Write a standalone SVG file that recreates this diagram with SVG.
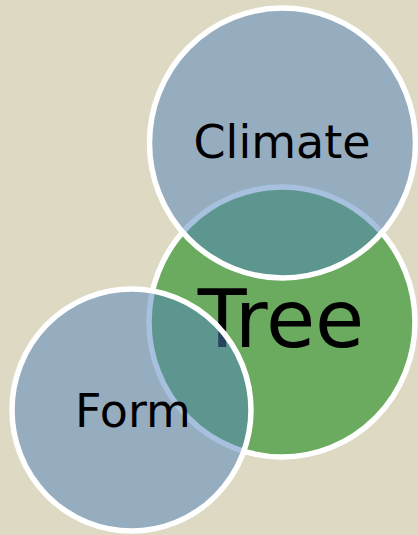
<svg xmlns="http://www.w3.org/2000/svg" width="418" height="535" viewBox="0 0 418 535">
  <style>
    .ring { stroke: #ffffff; stroke-width: 5.5; }
    .core { fill: #6bab5f; }
    .outer { fill: #4f81bd; fill-opacity: 0.5; }
    .label { font-family: "DejaVu Sans", "Open Sans", sans-serif; fill: #000000; text-anchor: middle; }
  </style>
  <rect width="418" height="535" fill="#ddd9c3"/>
  <g id="connectors"/>
  <g id="tree">
    <ellipse class="ring core" cx="282" cy="322" rx="133" ry="135"/>
    <text class="label" x="281" y="347" font-size="80">Tree</text>
  </g>
  <g id="climate">
    <ellipse class="ring outer" cx="282.5" cy="143" rx="133" ry="135"/>
    <text class="label" x="282" y="158" font-size="46">Climate</text>
  </g>
  <g id="form">
    <ellipse class="ring outer" cx="131.5" cy="410" rx="119.5" ry="121"/>
    <text class="label" x="133" y="427" font-size="46">Form</text>
  </g>
</svg>
